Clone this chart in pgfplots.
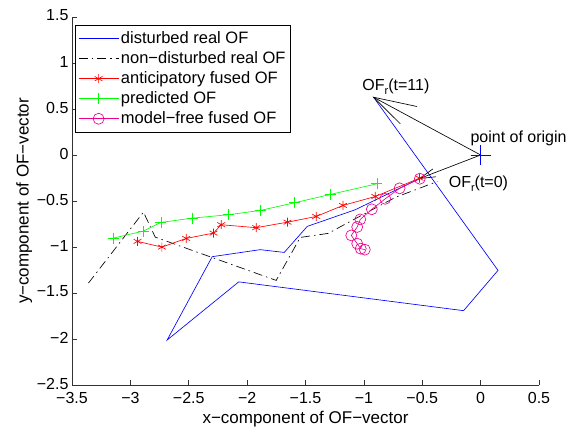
\documentclass[border=0pt]{standalone}
\usepackage{fontspec}
\setmainfont{Liberation Sans}
\usepackage{pgfplots}
\pgfplotsset{compat=1.18}
\newcommand{\subr}{\raisebox{-0.45ex}{\fontsize{11bp}{11bp}\selectfont r}}
\begin{document}
\begin{tikzpicture}
\useasboundingbox (-72bp,-47bp) rectangle (504bp,385bp);
\begin{axis}[
  scale only axis, width=467bp, height=368bp,
  xmin=-3.5, xmax=0.5, ymin=-2.5, ymax=1.5,
  axis x line*=bottom, axis y line*=left,
  axis line style={line width=0.6bp, black!80},
  tick align=inside, major tick length=5bp,
  tick style={line width=0.6bp, black!80},
  xtick={-3.5,-3,-2.5,-2,-1.5,-1,-0.5,0,0.5},
  xticklabels={−3.5,−3,−2.5,−2,−1.5,−1,−0.5,0,0.5},
  ytick={-2.5,-2,-1.5,-1,-0.5,0,0.5,1,1.5},
  yticklabels={−2.5,−2,−1.5,−1,−0.5,0,0.5,1,1.5},
  ticklabel style={font=\fontsize{16bp}{19bp}\selectfont},
  xticklabel style={yshift=-3.5bp},
  yticklabel style={yshift=1.5bp},
  xlabel={x−component of OF−vector},
  ylabel={y−component of OF−vector},
  label style={font=\fontsize{17bp}{20bp}\selectfont},
  xlabel style={yshift=-1bp},
  ylabel style={yshift=-2bp},
  legend style={at={(0.0064,0.978)}, anchor=north west,
    font=\fontsize{16.5bp}{18bp}\selectfont, draw=black, line width=0.6bp,
    inner xsep=3bp, inner ysep=4.5bp, row sep=2.6bp},
  legend cell align=left,
  legend image code/.code={\draw[mark repeat=2,mark phase=2] plot coordinates {(0bp,0bp) (20bp,0bp) (40bp,0bp)};},
  every axis plot/.append style={line width=0.65bp},
  clip=false,
]
% disturbed real OF
\addplot[blue, mark=none] coordinates {
(-0.517,-0.252) (-1.074,-0.595) (-1.485,-0.776) (-1.682,-1.059) (-1.888,-1.029)
(-2.299,-1.105) (-2.685,-2.011) (-2.072,-1.379) (-0.146,-1.692) (0.149,-1.254) (-0.917,0.628)};
\addlegendentry{disturbed real OF}
% non-disturbed real OF
\addplot[black, mark=none, dash pattern=on 9bp off 4bp on 1.5bp off 4bp] coordinates {
(-3.359,-1.392) (-2.888,-0.621) (-2.787,-0.893) (-1.751,-1.363) (-1.545,-0.896)
(-1.305,-0.852) (-1.117,-0.722) (-0.731,-0.461) (-0.371,-0.288)};
\addlegendentry{non−disturbed real OF\hspace{12bp}}
% anticipatory fused OF
\addplot[red, mark=asterisk, mark size=4.5bp] coordinates {
(-2.939,-0.939) (-2.730,-1.001) (-2.522,-0.907) (-2.288,-0.849) (-2.222,-0.758)
(-1.922,-0.790) (-1.654,-0.730) (-1.408,-0.668) (-1.179,-0.548) (-0.902,-0.451) (-0.523,-0.252)};
\addlegendentry{anticipatory fused OF}
% predicted OF
\addplot[green, mark=+, mark size=5.5bp] coordinates {
(-3.145,-0.903) (-2.888,-0.827) (-2.739,-0.733) (-2.468,-0.686) (-2.159,-0.649)
(-1.888,-0.603) (-1.594,-0.519) (-1.288,-0.429) (-0.888,-0.313)};
\addlegendentry{predicted OF}
% model-free fused OF
\addplot[magenta, mark=o, mark size=5.5bp] coordinates {
(-0.521,-0.258) (-0.694,-0.362) (-0.817,-0.476) (-0.932,-0.590) (-1.031,-0.700)
(-1.057,-0.782) (-1.108,-0.874) (-1.057,-0.964) (-1.027,-1.018) (-0.992,-1.029)};
\addlegendentry{model−free fused OF}
% arrows
\addplot[black, forget plot] coordinates {(0,0) (-0.917,0.628)};
\addplot[black, forget plot] coordinates {(-0.545,0.527) (-0.917,0.628) (-0.688,0.339)};
\addplot[black, forget plot] coordinates {(0,0) (-0.521,-0.255)};
\addplot[black, forget plot] coordinates {(-0.410,-0.152) (-0.521,-0.255) (-0.384,-0.237)};
% origin
\addplot[blue, only marks, mark=+, mark size=10bp, forget plot] coordinates {(0,0)};
\node[anchor=base west, inner sep=0pt, font=\fontsize{16bp}{19bp}\selectfont] at (axis cs:-1.014,0.70) {OF\subr(t=11)};
\node[anchor=base west, inner sep=0pt, font=\fontsize{16bp}{19bp}\selectfont] at (axis cs:-0.088,0.139) {point of origin};
\node[anchor=base west, inner sep=0pt, font=\fontsize{16bp}{19bp}\selectfont] at (axis cs:-0.274,-0.35) {OF\subr(t=0)};
\end{axis}
\end{tikzpicture}
\end{document}
